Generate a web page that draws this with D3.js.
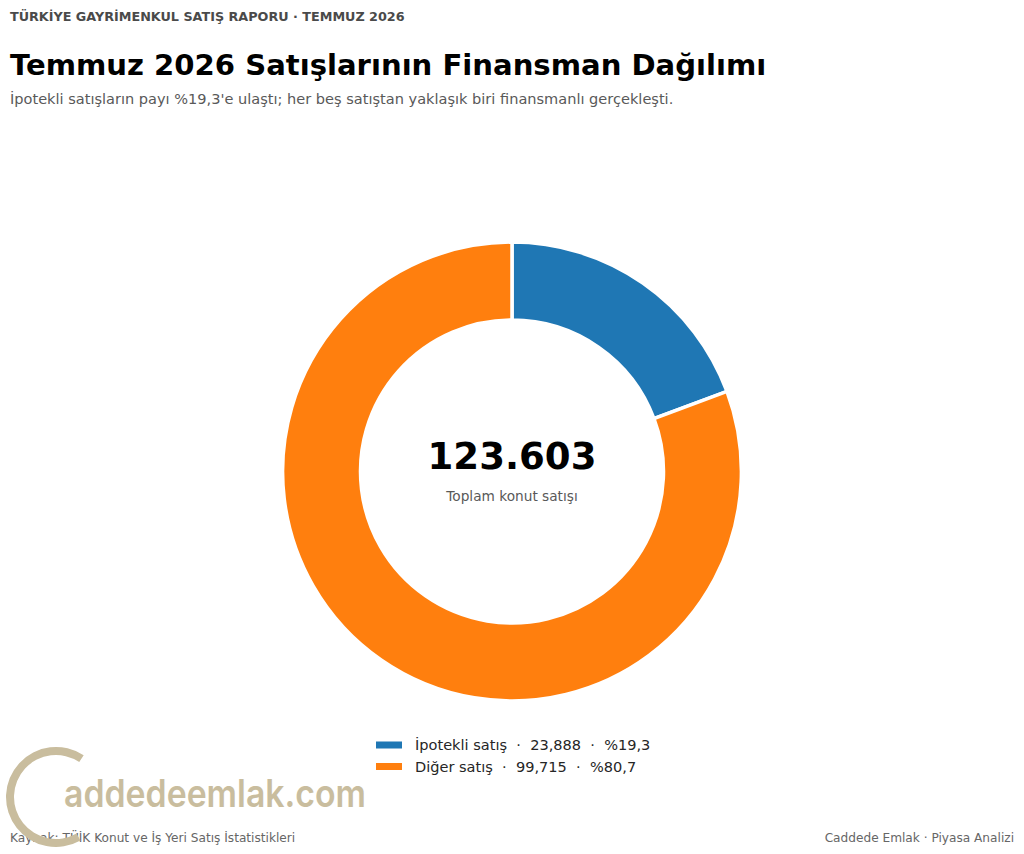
<!DOCTYPE html>
<html>
<head>
<meta charset="utf-8">
<script src="https://d3js.org/d3.v7.min.js"></script>
<style>
  html, body { margin: 0; padding: 0; background: #fff; }
  svg { display: block; }
  text { font-family: "DejaVu Sans", sans-serif; }
</style>
</head>
<body>
<svg class="chart" width="1024" height="854"></svg>
<script>
// chart values
var categories = ["İpotekli satış", "Diğer satış"];
var values = [23888, 99715];
var valueLabels = ["23,888", "99,715"];
var shareLabels = ["%19,3", "%80,7"];
var colors = ["#1f77b4", "#ff7f0e"];
var totalLabel = "123.603";

var svg = d3.select(".chart");

// header
svg.append("text").attr("x", 10).attr("y", 21)
  .attr("font-size", 12.75).attr("font-weight", "bold").attr("fill", "#4a4a4a")
  .text("TÜRKİYE GAYRİMENKUL SATIŞ RAPORU · TEMMUZ 2026");
svg.append("text").attr("x", 10).attr("y", 75)
  .attr("font-size", 29.1).attr("font-weight", "bold").attr("fill", "#000000")
  .text("Temmuz 2026 Satışlarının Finansman Dağılımı");
svg.append("text").attr("x", 10).attr("y", 104)
  .attr("font-size", 14.55).attr("fill", "#595959")
  .text("İpotekli satışların payı %19,3'e ulaştı; her beş satıştan yaklaşık biri finansmanlı gerçekleşti.");

// donut
var cx = 512, cy = 471.5;
var pie = d3.pie().sort(null);
var arc = d3.arc().innerRadius(151.5).outerRadius(229.4);
var donut = svg.append("g").attr("transform", "translate(" + cx + "," + cy + ")");
donut.selectAll("path").data(pie(values)).enter()
  .append("path")
    .attr("d", arc)
    .attr("fill", function(d, i) { return colors[i]; })
    .attr("stroke", "#ffffff")
    .attr("stroke-width", 3.5);

// center label
svg.append("text").attr("x", cx).attr("y", 469).attr("text-anchor", "middle")
  .attr("font-size", 37.1).attr("font-weight", "bold").attr("fill", "#000000")
  .text(totalLabel);
svg.append("text").attr("x", cx).attr("y", 501).attr("text-anchor", "middle")
  .attr("font-size", 13.7).attr("fill", "#595959")
  .text("Toplam konut satışı");

// legend
var legend = svg.selectAll(".legend").data(categories).enter()
  .append("g").attr("class", "legend")
  .attr("transform", function(d, i) { return "translate(376," + (745 + i * 21.5) + ")"; });
legend.append("rect").attr("x", 0).attr("y", -3.5).attr("width", 26).attr("height", 7)
  .attr("fill", function(d, i) { return colors[i]; });
legend.append("text").attr("x", 39).attr("y", 5)
  .attr("font-size", 14.55).attr("fill", "#262626")
  .attr("xml:space", "preserve")
  .text(function(d, i) { return d + "  ·  " + valueLabels[i] + "  ·  " + shareLabels[i]; });

// footer
svg.append("text").attr("x", 10).attr("y", 842)
  .attr("font-size", 12.15).attr("fill", "#666666")
  .text("Kaynak: TÜİK Konut ve İş Yeri Satış İstatistikleri");
svg.append("text").attr("x", 1014).attr("y", 842).attr("text-anchor", "end")
  .attr("font-size", 12.15).attr("fill", "#666666")
  .text("Caddede Emlak · Piyasa Analizi");

// logo on top of the footer
var logoColor = "#c9bd9e";
var logoArc = d3.arc().innerRadius(42).outerRadius(50)
  .startAngle(2.63).endAngle(6.87);
svg.append("path").attr("transform", "translate(56,797)")
  .attr("d", logoArc).attr("fill", logoColor);
svg.append("text").attr("x", 64).attr("y", 807)
  .attr("font-size", 38).attr("font-weight", "600")
  .attr("fill", logoColor).attr("textLength", 302).attr("lengthAdjust", "spacingAndGlyphs")
  .style("font-family", "Inter, sans-serif")
  .text("addedeemlak.com");
</script>
</body>
</html>
